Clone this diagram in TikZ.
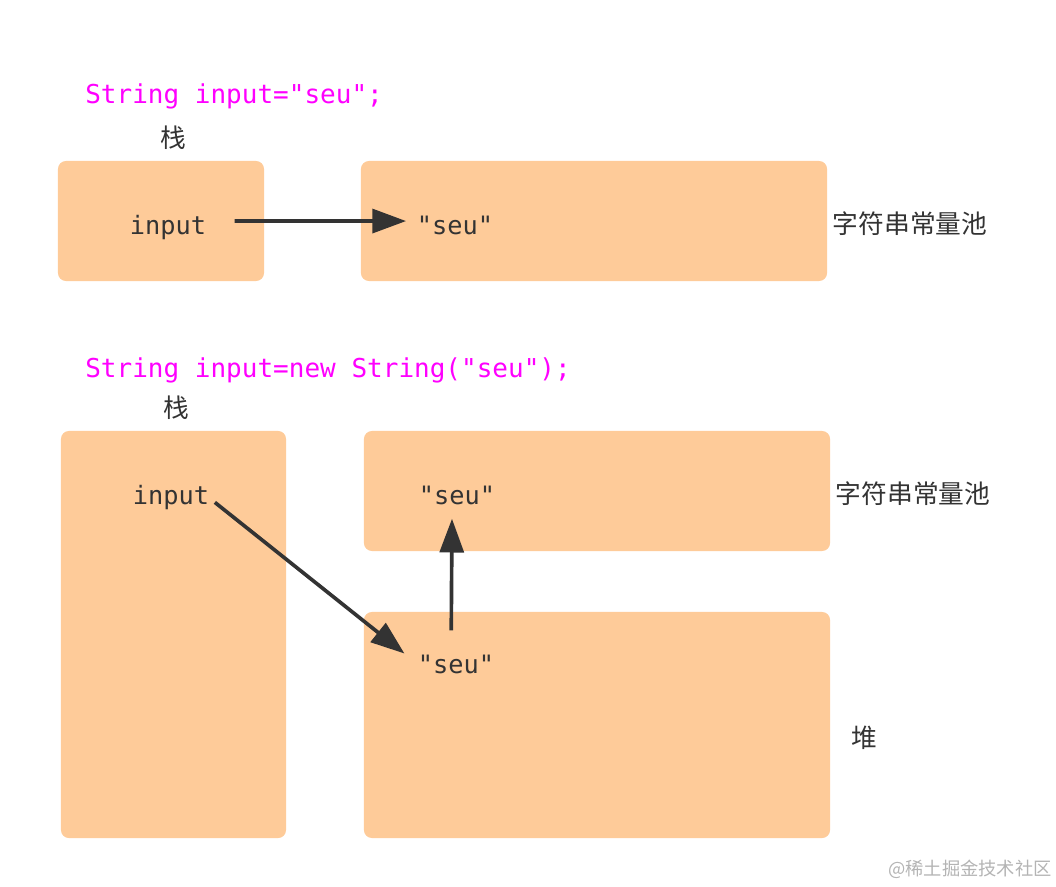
\documentclass[tikz,border=0pt]{standalone}
\usepackage{fontspec}
\setmonofont{DejaVu Sans Mono}
\newfontfamily\cjk{Noto Sans CJK SC}
\usetikzlibrary{arrows.meta}
\definecolor{boxOrange}{HTML}{FECB99}
\definecolor{inkGray}{HTML}{333333}
\definecolor{codeMagenta}{HTML}{FF00FF}
\definecolor{markGray}{HTML}{B4B4B4}

\begin{document}
\begin{tikzpicture}[x=0.025cm, y=-0.025cm,
        every node/.style={inner sep=0pt, text=inkGray}]
        \tikzstyle{memBox} = [rectangle, rounded corners=0.2cm, fill=boxOrange]
        \tikzstyle{varText} = [font=\ttfamily\fontsize{18}{22}\selectfont]
        \tikzstyle{codeText} = [font=\ttfamily\fontsize{18.5}{22}\selectfont, text=codeMagenta, anchor=west]
        \tikzstyle{areaText} = [font=\cjk\fontsize{18.3}{22}\selectfont]
        \tikzstyle{ptr} = [draw=inkGray, line width=2.6pt, -{Triangle[length=24pt,width=17pt]}]
        \useasboundingbox (0,0) rectangle (1056,886);
        % first case: literal
        \node[codeText] (code1) at (85,96) {String input="seu";};
        \node[areaText] (stackLbl1) at (173,138) {栈};
        \node[memBox, minimum width=5.15cm, minimum height=3cm] (stack1) at (161,221) {};
        \node[memBox, minimum width=11.65cm, minimum height=3cm] (pool1) at (594,221) {};
        \node[varText] (in1) at (168,228) {input};
        \node[varText] (seu1) at (455,225) {"seu"};
        \node[areaText] (poolLbl1) at (910,224) {字符串常量池};
        % second case: new String
        \node[codeText] (code2) at (85,370) {String input=new String("seu");};
        \node[areaText] (stackLbl2) at (176,408) {栈};
        \node[memBox, minimum width=5.625cm, minimum height=10.175cm] (stack2) at (173.5,634.5) {};
        \node[memBox, minimum width=11.65cm, minimum height=3cm] (pool2) at (597,491) {};
        \node[memBox, minimum width=11.65cm, minimum height=5.65cm] (heap) at (597,725) {};
        \node[varText] (in2) at (171,498) {input};
        \node[varText] (seu2) at (457,495) {"seu"};
        \node[varText] (seu3) at (456,664) {"seu"};
        \node[areaText] (poolLbl2) at (913,494) {字符串常量池};
        \node[areaText] (heapLbl) at (864,738) {堆};
        \node[font=\cjk\fontsize{13}{15}\selectfont, text=markGray] (mark) at (970,869) {@稀土掘金技术社区};
        % pointers
        \draw[ptr, shorten <=20pt, shorten >=7.5pt] ([yshift=5pt]in1.east) -- ([yshift=2.8pt]seu1.west);
        \draw[ptr, shorten <=5pt, shorten >=12pt] (in2.east) -- (seu3.west);
        \draw[ptr, shorten <=17pt, shorten >=10pt] ([xshift=-3.5pt]seu3.north) -- ([xshift=-3.5pt]seu2.south);
    \end{tikzpicture}
\end{document}
